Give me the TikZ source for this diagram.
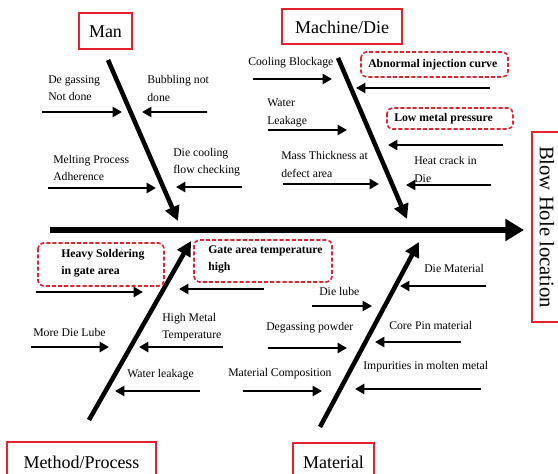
\documentclass[tikz,border=0pt]{standalone}
\usepackage{fontspec}
\setmainfont{Liberation Serif}
\usetikzlibrary{arrows.meta}
\definecolor{figred}{RGB}{230,32,44}
\tikzset{
  lbl/.style={anchor=west,align=left,inner sep=0pt,font=\fontsize{8.8}{13}\selectfont},
  blbl/.style={lbl,font=\fontsize{8.8}{13}\selectfont\bfseries},
  cat/.style={draw=figred,line width=1.2pt,inner sep=0pt,font=\fontsize{13.5}{15}\selectfont},
  dbox/.style={draw=figred,line width=1.2pt,dash pattern=on 3pt off 1.6pt,rounded corners=4pt},
  small/.style={line width=1.9pt,-{Triangle[length=7pt,width=7.5pt]}},
  bone/.style={line width=3.4pt,-{Triangle[length=11pt,width=11pt]}},
  spine/.style={line width=4.6pt,-{Triangle[length=14pt,width=16pt]}}
}
\begin{document}
\begin{tikzpicture}[x=0.75pt,y=-0.75pt]
\useasboundingbox (0,0) rectangle (558,474);
\clip (0,0) rectangle (558,474);
% category boxes
\draw[draw=figred,line width=1.2pt] (79,13) rectangle (132,49);
\node[inner sep=0pt,font=\fontsize{13.5}{15}\selectfont] (man) at (105.5,32) {Man};
\draw[draw=figred,line width=1.2pt] (282,9) rectangle (402,44);
\node[inner sep=0pt,font=\fontsize{13.5}{15}\selectfont] (machine) at (342,27) {Machine/Die};
\draw[draw=figred,line width=1.2pt] (7,442) rectangle (156,480);
\node[inner sep=0pt,font=\fontsize{13.5}{15}\selectfont] (method) at (81.5,462) {Method/Process};
\draw[draw=figred,line width=1.2pt] (293,443) rectangle (374,480);
\node[inner sep=0pt,font=\fontsize{13.5}{15}\selectfont] (material) at (333.5,462) {Material};
\draw[draw=figred,line width=1.2pt] (532,132) rectangle (570,322);
\node[inner sep=0pt,rotate=-90,font=\fontsize{15.5}{17}\selectfont] (effect) at (547,227) {Blow Hole location};
% spine
\coordinate (sp0) at (50,230);
\coordinate (sp1) at (524,230);
\draw[spine] (sp0) -- (sp1);
% bones
\coordinate (b1s) at (108,60);  \coordinate (b1e) at (178,221);
\coordinate (b2s) at (338,58);  \coordinate (b2e) at (407,219);
\coordinate (b3s) at (89,420);  \coordinate (b3e) at (191,241);
\coordinate (b4s) at (320,427); \coordinate (b4e) at (419,242);
\draw[bone] (b1s) -- (b1e);
\draw[bone] (b2s) -- (b2e);
\draw[bone] (b3s) -- (b3e);
\draw[bone] (b4s) -- (b4e);
% Man causes
\node[lbl] (t1) at (48,88.5) {De gassing\\Not done};
\node[lbl] (t2) at (147,88.5) {Bubbling not\\done};
\node[lbl] (t3) at (53,168) {Melting Process\\Adherence};
\node[lbl] (t4) at (173,162) {Die cooling\\flow checking};
\coordinate (a1s) at (42,112);  \coordinate (a1e) at (122,112);
\coordinate (a2s) at (207,112); \coordinate (a2e) at (142,112);
\coordinate (a3s) at (48,188);  \coordinate (a3e) at (156,188);
\coordinate (a4s) at (242,187); \coordinate (a4e) at (176,187);
\draw[small] (a1s) -- (a1e);
\draw[small] (a2s) -- (a2e);
\draw[small] (a3s) -- (a3e);
\draw[small] (a4s) -- (a4e);
% Machine causes
\node[lbl] (t5) at (248,63) {Cooling Blockage};
\draw[dbox] (361,52) rectangle (508,77);
\node[blbl] (t6) at (368,64.5) {Abnormal injection curve};
\node[lbl] (t7) at (267,113) {Water\\Leakage};
\draw[dbox] (387,108) rectangle (513,129);
\node[blbl] (t8) at (394,118.5) {Low metal pressure};
\node[lbl] (t9) at (281,164.5) {Mass Thickness at\\defect area};
\node[lbl] (t10) at (414,169.5) {Heat crack in\\Die};
\coordinate (a5s) at (253,79);  \coordinate (a5e) at (332,79);
\coordinate (a6s) at (490,88);  \coordinate (a6e) at (356,88);
\coordinate (a7s) at (268,130); \coordinate (a7e) at (347,130);
\coordinate (a8s) at (503,145); \coordinate (a8e) at (388,145);
\coordinate (a9s) at (283,184); \coordinate (a9e) at (379,184);
\coordinate (a10s) at (491,185); \coordinate (a10e) at (406,185);
\draw[small] (a5s) -- (a5e);
\draw[small] (a6s) -- (a6e);
\draw[small] (a7s) -- (a7e);
\draw[small] (a8s) -- (a8e);
\draw[small] (a9s) -- (a9e);
\draw[small] (a10s) -- (a10e);
% Method causes
\draw[dbox] (38,243) rectangle (164,286);
\node[blbl] (t11) at (61,263.5) {Heavy Soldering\\in gate area};
\draw[dbox] (194,240) rectangle (332,282);
\node[blbl] (t12) at (208,259.5) {Gate area temperature\\high};
\node[lbl] (t13) at (33,332) {More Die Lube};
\node[lbl] (t14) at (162,327) {High Metal\\Temperature};
\node[lbl] (t15) at (127,375) {Water leakage};
\coordinate (a11s) at (36,292);  \coordinate (a11e) at (143,292);
\coordinate (a12s) at (264,289); \coordinate (a12e) at (179,289);
\coordinate (a13s) at (31,347);  \coordinate (a13e) at (109,347);
\coordinate (a14s) at (223,347); \coordinate (a14e) at (139,347);
\coordinate (a15s) at (200,391); \coordinate (a15e) at (115,391);
\draw[small] (a11s) -- (a11e);
\draw[small] (a12s) -- (a12e);
\draw[small] (a13s) -- (a13e);
\draw[small] (a14s) -- (a14e);
\draw[small] (a15s) -- (a15e);
% Material causes
\node[lbl] (t16) at (319,291) {Die lube};
\node[lbl] (t17) at (266,328) {Degassing powder};
\node[lbl] (t18) at (228,374) {Material Composition};
\node[lbl] (t19) at (424,268) {Die Material};
\node[lbl] (t20) at (389,325) {Core Pin material};
\node[lbl] (t21) at (363,367) {Impurities in molten metal};
\coordinate (a16s) at (312,306); \coordinate (a16e) at (372,306);
\coordinate (a17s) at (268,348); \coordinate (a17e) at (347,348);
\coordinate (a18s) at (243,391); \coordinate (a18e) at (322,391);
\coordinate (a19s) at (486,286); \coordinate (a19e) at (400,286);
\coordinate (a20s) at (461,342); \coordinate (a20e) at (375,342);
\coordinate (a21s) at (481,389); \coordinate (a21e) at (355,389);
\draw[small] (a16s) -- (a16e);
\draw[small] (a17s) -- (a17e);
\draw[small] (a18s) -- (a18e);
\draw[small] (a19s) -- (a19e);
\draw[small] (a20s) -- (a20e);
\draw[small] (a21s) -- (a21e);
\end{tikzpicture}
\end{document}
